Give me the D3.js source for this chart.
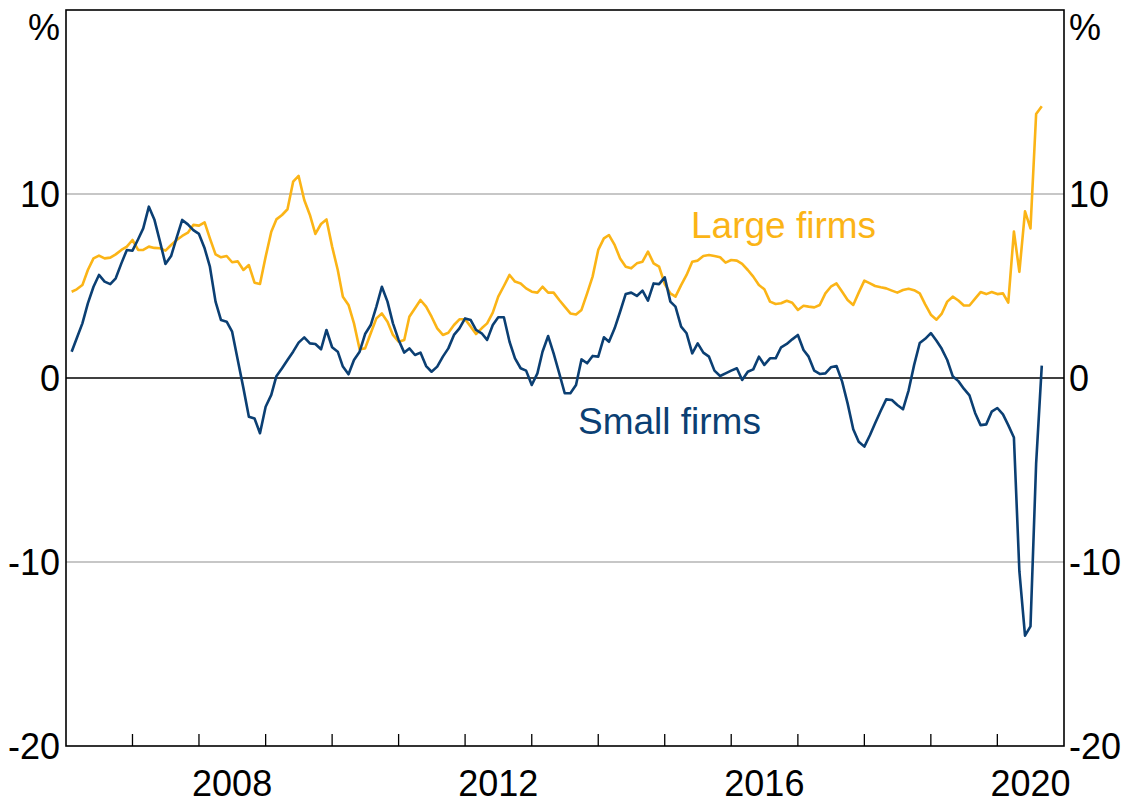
<!DOCTYPE html>
<meta charset="utf-8">
<style>
html{ background:#fff; }
body{ margin:0; }
text{ font-family:"Liberation Sans", Arial, sans-serif; }
</style>
<body>
<script src="https://d3js.org/d3.v7.min.js"></script>
<script>

// monthly, Jan 2006 .. Aug 2020 (plotted at month end)
var firstMonth = "2006-01";

var small = [1.43,2.16,2.97,4.06,4.96,5.6,5.24,5.1,5.42,6.23,6.96,6.92,7.54,8.13,9.31,8.62,7.41,6.2,6.63,7.64,
  8.59,8.35,8.04,7.83,7.05,6.05,4.15,3.15,3.06,2.52,0.98,-0.55,-2.1,-2.2,-3.0,-1.56,-0.92,0.1,0.53,0.98,
  1.43,1.92,2.21,1.88,1.85,1.56,2.61,1.67,1.43,0.62,0.2,0.98,1.43,2.39,2.88,3.88,4.96,4.15,2.97,2.07,
  1.38,1.61,1.25,1.38,0.65,0.34,0.62,1.16,1.61,2.34,2.7,3.24,3.15,2.61,2.43,2.07,2.88,3.3,3.3,1.97,
  1.07,0.53,0.4,-0.38,0.25,1.43,2.28,1.34,0.25,-0.83,-0.83,-0.38,1.01,0.8,1.2,1.16,2.21,1.97,2.7,3.6,
  4.57,4.64,4.46,4.75,4.2,5.14,5.1,5.47,4.15,3.88,2.79,2.43,1.34,1.88,1.38,1.16,0.4,0.11,0.25,0.4,
  0.53,-0.11,0.34,0.47,1.16,0.71,1.07,1.07,1.67,1.85,2.1,2.34,1.52,1.16,0.4,0.22,0.25,0.58,0.65,-0.2,
  -1.38,-2.79,-3.46,-3.73,-3.1,-2.46,-1.78,-1.16,-1.2,-1.47,-1.7,-0.67,0.7,1.9,2.13,2.44,2.02,1.6,0.98,0.1,
  -0.17,-0.58,-0.94,-1.9,-2.56,-2.52,-1.83,-1.63,-1.98,-2.56,-3.23,-10.5,-14.0,-13.5,-4.65,0.67];

var large = [4.69,4.82,5.05,5.87,6.5,6.65,6.5,6.54,6.72,6.96,7.14,7.5,6.96,6.96,7.14,7.07,7.05,6.92,7.23,7.5,
  7.72,7.9,8.32,8.28,8.46,7.59,6.72,6.56,6.63,6.29,6.34,5.87,6.14,5.18,5.11,6.59,7.95,8.62,8.86,9.17,
  10.67,10.98,9.67,8.86,7.83,8.37,8.62,7.14,5.87,4.42,3.97,2.97,1.56,1.61,2.43,3.24,3.51,3.06,2.34,1.97,
  2.07,3.33,3.79,4.24,3.88,3.33,2.7,2.34,2.46,2.88,3.19,3.19,2.79,2.39,2.7,2.97,3.55,4.42,5.0,5.6,
  5.24,5.14,4.87,4.69,4.64,4.96,4.64,4.64,4.24,3.88,3.51,3.45,3.7,4.6,5.51,6.96,7.59,7.77,7.23,6.5,
  6.05,5.96,6.23,6.32,6.87,6.23,6.05,5.11,4.6,4.42,5.05,5.6,6.32,6.38,6.63,6.68,6.63,6.56,6.27,6.41,
  6.38,6.2,5.87,5.51,5.05,4.82,4.15,4.02,4.06,4.2,4.09,3.7,3.93,3.88,3.84,3.97,4.6,4.96,5.14,4.69,
  4.24,3.97,4.64,5.29,5.14,5.0,4.93,4.87,4.75,4.64,4.78,4.85,4.77,4.6,4.0,3.44,3.17,3.48,4.15,4.42,
  4.21,3.94,3.94,4.31,4.67,4.56,4.67,4.56,4.6,4.1,7.96,5.77,9.06,8.13,14.35,14.77];

var yTicks = [-20, -10, 0, 10];
var yearLabels = [2008, 2012, 2016, 2020];
var seriesNames = ["Small firms", "Large firms"];

var width = 1125, height = 803;
var pl = 66, pr = 1064, pt = 10, pb = 746;
var blue = "#0b3f73", orange = "#fbb416";

var svg = d3.select("body").append("svg")
    .attr("width", width)
    .attr("height", height);

var start = d3.timeParse("%Y-%m")(firstMonth);
var dates = small.map(function(d, i){ return d3.timeMonth.offset(start, i + 1); });

var x = d3.scaleTime()
    .domain([new Date(2006, 0, 1), new Date(2021, 0, 1)])
    .range([pl, pr]);
var y = d3.scaleLinear()
    .domain([-20, 20])
    .range([pb, pt]);

// gridlines
svg.append("g").selectAll("line")
  .data(yTicks.filter(function(d){ return d !== 0 && d !== -20; }))
  .enter().append("line")
  .attr("x1", pl).attr("x2", pr)
  .attr("y1", y).attr("y2", y)
  .attr("stroke", "#b4b4b4")
  .attr("stroke-width", 1.5);

// year ticks along the bottom
var years = d3.timeYear.range(new Date(2007, 0, 1), new Date(2021, 0, 1));
svg.append("g").selectAll("line")
  .data(years)
  .enter().append("line")
  .attr("x1", x).attr("x2", x)
  .attr("y1", pb).attr("y2", pb - 12)
  .attr("stroke", "#000")
  .attr("stroke-width", 1.3);

// frame
svg.append("rect")
  .attr("x", pl).attr("y", pt)
  .attr("width", pr - pl).attr("height", pb - pt)
  .attr("fill", "none")
  .attr("stroke", "#000")
  .attr("stroke-width", 1.6);

// zero line
svg.append("line")
  .attr("x1", pl).attr("x2", pr)
  .attr("y1", y(0)).attr("y2", y(0))
  .attr("stroke", "#000")
  .attr("stroke-width", 1.5);

var line = d3.line()
    .x(function(d, i){ return x(dates[i]); })
    .y(function(d){ return y(d); });

svg.append("path")
  .datum(large)
  .attr("fill", "none")
  .attr("stroke", orange)
  .attr("stroke-width", 2.6)
  .attr("stroke-linejoin", "round")
  .attr("d", line);

svg.append("path")
  .datum(small)
  .attr("fill", "none")
  .attr("stroke", blue)
  .attr("stroke-width", 2.6)
  .attr("stroke-linejoin", "round")
  .attr("d", line);

// y labels, both sides
var fs = 36;
svg.append("g").selectAll("text")
  .data(yTicks)
  .enter().append("text")
  .attr("x", pl - 6)
  .attr("y", function(d){ return y(d) + 13; })
  .attr("text-anchor", "end")
  .attr("font-size", fs)
  .text(function(d){ return d; });

svg.append("g").selectAll("text")
  .data(yTicks)
  .enter().append("text")
  .attr("x", pr + 5)
  .attr("y", function(d){ return y(d) + 13; })
  .attr("text-anchor", "start")
  .attr("font-size", fs)
  .text(function(d){ return d; });

svg.append("text").attr("x", pl - 6).attr("y", 40)
  .attr("text-anchor", "end").attr("font-size", fs).text("%");
svg.append("text").attr("x", pr + 5).attr("y", 40)
  .attr("text-anchor", "start").attr("font-size", fs).text("%");

// year labels, centred mid-year
svg.append("g").selectAll("text")
  .data(yearLabels)
  .enter().append("text")
  .attr("x", function(d){ return x(new Date(d, 6, 1)); })
  .attr("y", 796)
  .attr("text-anchor", "middle")
  .attr("font-size", fs)
  .text(function(d){ return d; });

// series labels
svg.append("text")
  .attr("x", 578).attr("y", 434)
  .attr("font-size", 37)
  .attr("fill", blue)
  .text(seriesNames[0]);

svg.append("text")
  .attr("x", 691).attr("y", 238)
  .attr("font-size", 37)
  .attr("fill", orange)
  .text(seriesNames[1]);

</script>
</body>
